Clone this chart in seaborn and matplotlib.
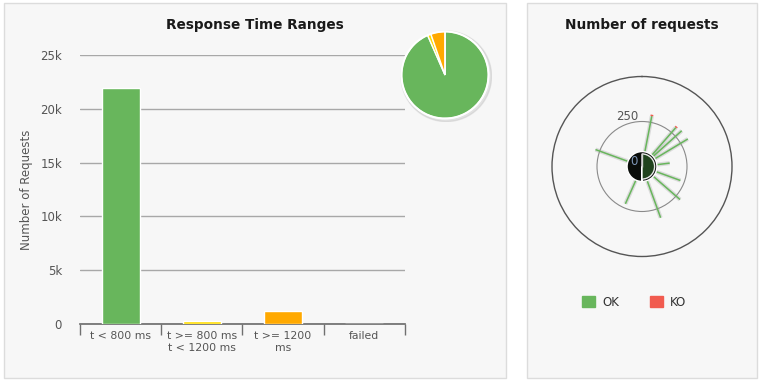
import numpy as np
import matplotlib
matplotlib.use("Agg")
import matplotlib.pyplot as plt
import seaborn as sns
from matplotlib.patches import Rectangle, Patch, Circle

# Response time ranges (bar + pie)
ranges = ["t < 800 ms", "t >= 800 ms\nt < 1200 ms", "t >= 1200\nms", "failed"]
counts = [21900, 300, 1240, 0]
range_colors = ["#68b65c", "#ffdd00", "#ffa900", "#f15b4f"]
yticks = [0, 5000, 10000, 15000, 20000, 25000]
ytick_labels = ["0", "5k", "10k", "15k", "20k", "25k"]

# Number of requests (polar spokes), angle in degrees clockwise from north
req_angles = [11, 41, 48, 59, 83, 110, 131, 160, 204, 290]
req_ok = [285, 287, 297, 297, 155, 227, 280, 303, 227, 275]
req_ko = [8, 7, 0, 0, 0, 0, 0, 0, 0, 0]

OK_COLOR = "#68b65c"
KO_COLOR = "#f15b4f"

sns.set_theme(style="white")
plt.rcParams["font.family"] = ["DejaVu Sans"]

W, H = 762, 383
fig = plt.figure(figsize=(W / 100, H / 100), dpi=100)
fig.patch.set_facecolor("white")


def box(x0, y0, x1, y1):
    # pixel box (top-left origin) -> figure rect
    return [x0 / W, 1 - y1 / H, (x1 - x0) / W, (y1 - y0) / H]


# panel backgrounds
for x0, x1 in [(4, 506), (527, 757)]:
    r = box(x0, 3, x1, 378)
    fig.patches.append(Rectangle((r[0], r[1]), r[2], r[3], transform=fig.transFigure,
                                 fc="#f7f7f7", ec="#dcdcdc", lw=1, zorder=-5))

# ---- bar chart
ax = fig.add_axes(box(80, 55, 405, 324))
ax.set_facecolor("none")
sns.barplot(x=ranges, y=counts, hue=ranges, palette=range_colors, width=0.47,
            saturation=1, legend=False, ax=ax, edgecolor="white", linewidth=1, zorder=3)
ax.set_xlim(-0.5, 3.5)
ax.set_ylim(0, 25000)
ax.set_yticks(yticks)
ax.set_yticklabels(ytick_labels)
ax.yaxis.grid(True, color="#a8a8a8", lw=1)
ax.set_axisbelow(True)
for s in ["left", "right", "top"]:
    ax.spines[s].set_visible(False)
ax.spines["bottom"].set_color("#707070")
ax.set_xticks(np.arange(-0.5, 4, 1), minor=True)
ax.tick_params(axis="x", which="minor", bottom=True, length=8, color="#707070",
               width=1, direction="out")
ax.tick_params(axis="x", which="major", length=0, labelsize=7.8, labelcolor="#555555", pad=5)
ax.tick_params(axis="y", length=0, labelsize=8.5, labelcolor="#555555", pad=13)
ax.set_xlabel("")
ax.set_ylabel("Number of Requests", fontsize=8.5, color="#555555", labelpad=5)
fig.text(255 / W, 1 - 25 / H, "Response Time Ranges", ha="center", va="center",
         fontsize=9.8, fontweight="bold", color="#1a1a1a")

# ---- pie
pax = fig.add_axes(box(398, 28, 492, 122))
pax.add_patch(Circle((0.03, -0.03), 1.04, color="#bbbbbb", alpha=0.35, zorder=0))
pax.pie(counts, colors=range_colors, startangle=90, counterclock=False,
        wedgeprops=dict(edgecolor="white", linewidth=1))
pax.add_patch(Circle((0, 0), 1.0, fill=False, ec="white", lw=1.5, zorder=5))
pax.set_xlim(-1.08, 1.08)
pax.set_ylim(-1.08, 1.08)

# ---- polar requests chart
rax = fig.add_axes(box(552, 76.5, 732, 256.5), projection="polar")
rax.set_facecolor("none")
rax.set_theta_zero_location("N")
rax.set_theta_direction(-1)
rax.set_ylim(0, 500)
rax.set_rgrids([250], labels=[""])
rax.set_xticks([])
rax.yaxis.grid(True, color="#8a8a8a", lw=0.8)
rax.spines["polar"].set_color("#555555")
rax.spines["polar"].set_linewidth(1)

theta = np.deg2rad(req_angles)
ok = np.array(req_ok)
ko = np.array(req_ko)
rax.vlines(theta, 0, ok, color="#999999", lw=3.0, alpha=0.3, zorder=2)
rax.vlines(theta, 0, ok, color=OK_COLOR, lw=1.1, zorder=3)
rax.vlines(theta[ko > 0], ok[ko > 0], (ok + ko)[ko > 0], color=KO_COLOR, lw=2, zorder=3)

# center ball
rax.bar(0, 83, width=2 * np.pi, bottom=0, color="#0a0d0a", zorder=5)
rax.bar(np.pi / 2, 70, width=np.pi, bottom=0, color="#234a20", alpha=0.9, zorder=6)
rax.vlines([0], 0, 68, color="#d0d0d0", lw=1, zorder=7)
rax.text(np.deg2rad(-16), 290, "250", ha="center", va="center", fontsize=8.5,
         color="#555555", zorder=8)
rax.text(np.deg2rad(-55), 52, "0", ha="center", va="center", fontsize=8.5,
         color="#7f97b8", zorder=8)

fig.text(642 / W, 1 - 25 / H, "Number of requests", ha="center", va="center",
         fontsize=9.8, fontweight="bold", color="#1a1a1a")

fig.legend(handles=[Patch(color=OK_COLOR, label="OK"), Patch(color=KO_COLOR, label="KO")],
           loc="center", bbox_to_anchor=(634 / W, 1 - 302 / H), ncol=2, frameon=False,
           handlelength=1.1, handleheight=1.1, handletextpad=0.6, columnspacing=2.6,
           fontsize=8.5, labelcolor="#333333")

fig.savefig("out.png", dpi=100)
